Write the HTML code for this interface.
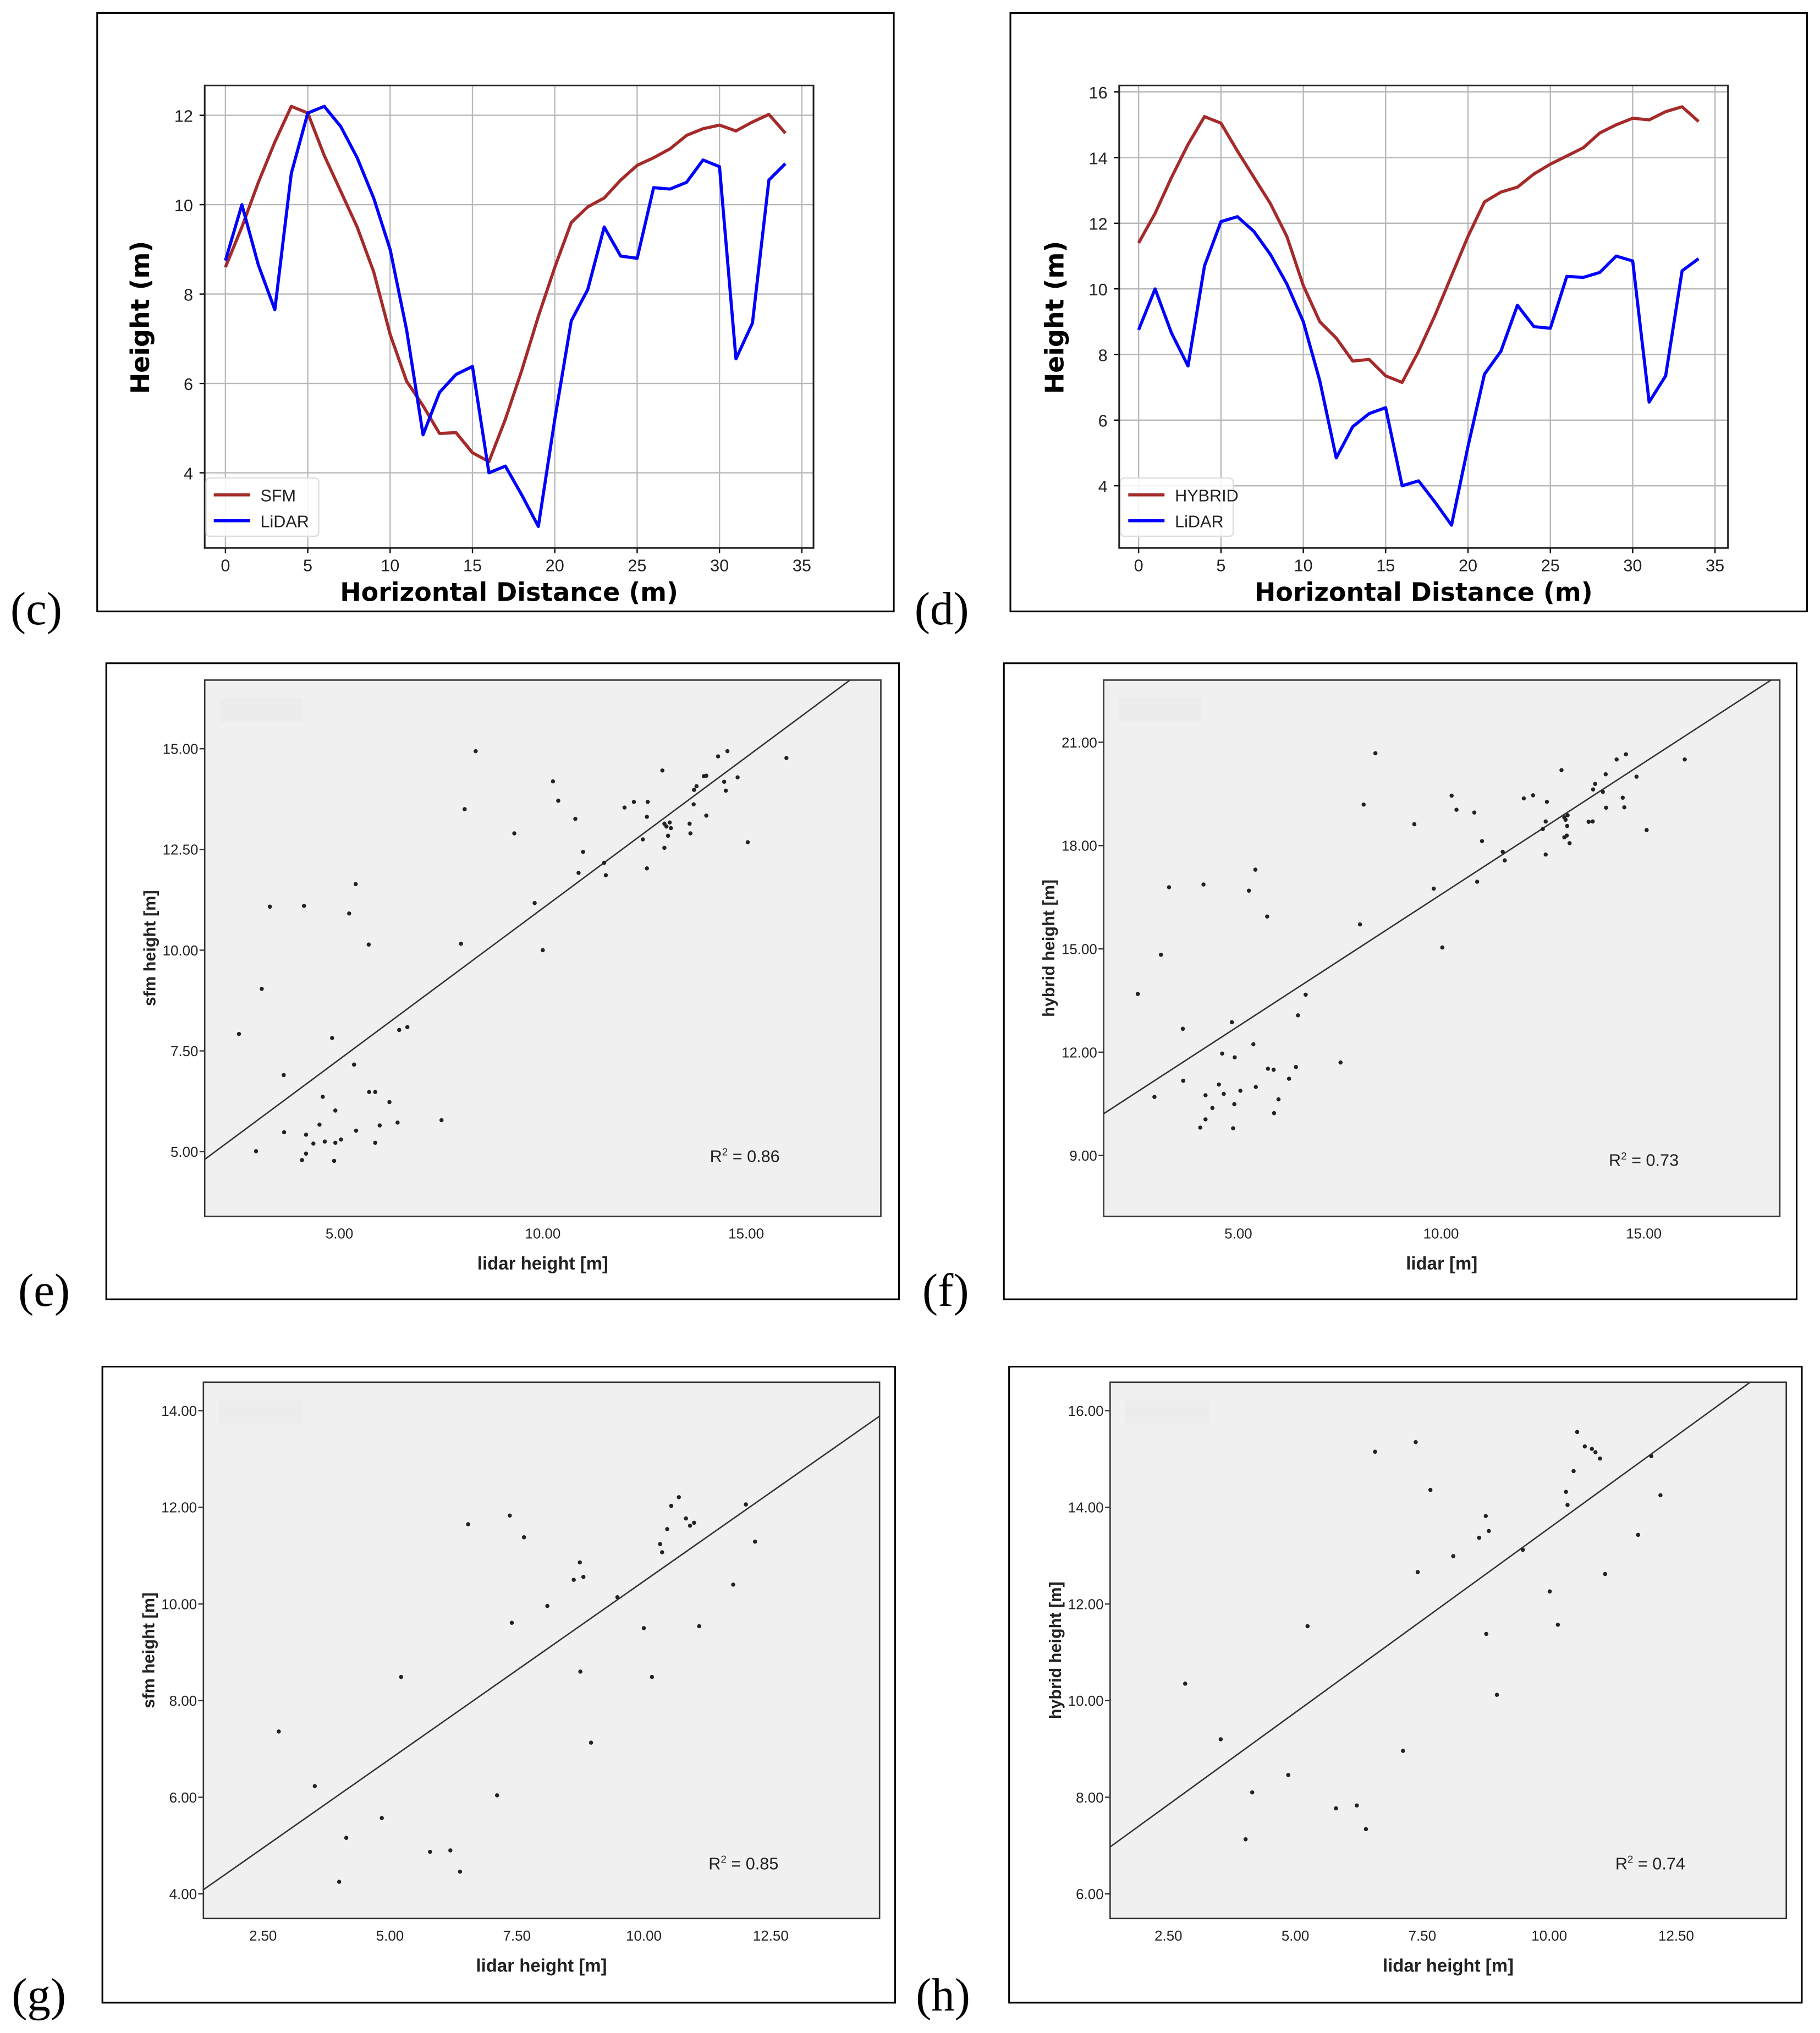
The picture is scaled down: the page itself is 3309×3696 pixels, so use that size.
<!DOCTYPE html>
<html><head><meta charset="utf-8"><style>
html,body{margin:0;padding:0;background:#fff;}
svg{display:block;}
</style></head><body>
<svg id="fig" xmlns="http://www.w3.org/2000/svg" width="3309" height="3696" viewBox="0 0 1405 1569.4">
<rect x="0" y="0" width="1405" height="1569.4" fill="#fff"/>
<g id="root"></g>
</svg>
<script>
// ---------- data: profiles ----------
const profX = [0,1,2,3,4,5,6,7,8,9,10,11,12,13,14,15,16,17,18,19,20,21,22,23,24,25,26,27,28,29,30,31,32,33,34];
const sfmProfile = [8.6,9.5,10.5,11.4,12.2,12.05,11.1,10.3,9.5,8.5,7.1,6.05,5.5,4.88,4.9,4.45,4.25,5.2,6.3,7.5,8.6,9.6,9.95,10.15,10.55,10.88,11.05,11.25,11.55,11.7,11.78,11.65,11.85,12.02,11.6];
const lidarProfile = [8.75,10.0,8.65,7.65,10.7,12.05,12.2,11.75,11.05,10.15,9.0,7.2,4.85,5.8,6.2,6.38,4.0,4.15,3.5,2.8,5.2,7.4,8.1,9.5,8.85,8.8,10.38,10.35,10.5,11.0,10.85,6.55,7.35,10.55,10.92];
const hybridProfile = [11.4,12.3,13.4,14.4,15.25,15.05,14.2,13.4,12.6,11.6,10.1,9.0,8.5,7.8,7.85,7.35,7.15,8.1,9.2,10.4,11.6,12.65,12.95,13.1,13.5,13.8,14.05,14.3,14.75,15.0,15.2,15.15,15.4,15.55,15.1];
const profXTicks = [0,5,10,15,20,25,30,35];
const cYTicks = [4,6,8,10,12];
const dYTicks = [4,6,8,10,12,14,16];

// ---------- data: scatter e / f (same lidar x) ----------
const efLidar = [8.35,10.25,10.38,8.08,9.30,10.80,10.99,10.88,11.51,11.55,9.80,10.0,7.99,12.01,12.24,12.58,12.56,12.46,12.56,12.94,12.99,13.04,13.12,13.15,13.08,12.99,13.61,13.63,13.71,13.72,13.78,13.96,14.02,14.02,14.31,14.54,14.46,14.50,14.79,15.04,15.99,2.53,3.09,3.29,4.13,5.24,5.40,5.72,3.63,3.64,2.95,4.18,4.51,4.59,4.82,4.90,4.36,4.64,4.90,5.04,4.18,4.08,4.87,5.36,5.41,5.73,5.88,5.99,5.88,6.23,6.43,6.47,6.67,7.51];
const eSfm = [14.94,14.19,13.71,13.50,12.90,13.26,12.44,11.92,12.17,11.86,11.17,10.0,10.16,13.54,13.68,13.68,13.31,12.75,12.03,14.46,13.14,13.07,13.17,13.03,12.84,12.54,13.14,12.90,13.62,13.98,14.07,14.32,14.33,13.34,14.81,14.94,14.18,13.96,14.29,12.68,14.77,7.92,9.04,11.08,11.10,10.91,11.64,10.14,6.90,5.48,5.01,5.42,5.67,6.36,7.82,6.02,5.20,5.25,5.22,5.30,4.95,4.79,4.77,7.16,5.52,6.48,6.48,5.65,5.22,6.23,5.72,8.02,8.09,5.78];
const fLidar = [8.38,8.09,10.26,10.38,10.82,9.34,11.01,9.82,10.89,11.52,11.57,10.03,8.0,12.04,12.27,12.61,12.58,12.51,12.58,12.97,13.04,13.07,13.12,13.11,13.10,13.04,13.17,13.64,13.74,13.75,13.80,13.99,14.06,14.07,14.33,14.56,14.48,14.52,14.82,15.07,16.01,2.52,3.09,3.29,4.14,5.26,5.42,5.71,3.63,3.64,2.93,4.19,4.52,4.60,4.84,4.91,4.36,4.64,4.90,5.05,4.19,4.06,4.87,5.37,5.43,5.73,5.87,5.99,5.88,6.25,6.42,6.47,6.66,7.52];
const fHybrid = [20.68,19.19,19.45,19.04,18.96,18.62,18.13,16.75,16.95,17.82,17.57,15.04,15.71,19.37,19.46,19.27,18.70,18.48,17.74,20.19,18.82,18.75,18.88,18.57,18.29,18.24,18.07,18.69,18.70,19.63,19.79,19.56,20.07,19.10,20.50,20.65,19.39,19.11,20.0,18.45,20.50,13.69,14.83,16.79,16.87,16.69,17.30,15.94,12.68,11.17,10.70,10.75,11.06,11.96,12.87,11.85,10.38,10.79,10.49,10.88,10.05,9.81,9.79,12.23,10.99,11.52,11.49,10.63,10.23,11.23,11.57,13.07,13.67,11.70];

// ---------- data: scatter g / h ----------
const gLidar = [2.81,3.52,4.14,4.00,4.84,5.22,5.79,6.19,6.38,6.54,7.11,7.36,7.40,7.64,8.10,8.62,8.74,8.81,8.75,8.96,9.48,10.0,10.16,10.32,10.36,10.46,10.54,10.69,10.83,10.91,10.99,11.09,11.76,12.01,12.19];
const gSfm = [7.36,6.23,5.16,4.25,5.57,8.49,4.87,4.90,4.46,11.65,6.04,11.83,9.61,11.38,9.96,10.50,10.86,10.56,8.60,7.13,10.14,9.50,8.49,11.24,11.07,11.55,12.03,12.21,11.77,11.62,11.68,9.54,10.40,12.06,11.29];
const hLidar = [2.83,3.53,4.15,4.02,4.86,5.24,5.80,6.21,6.39,6.57,7.12,7.37,7.41,7.66,8.11,8.62,8.75,8.81,8.76,8.97,9.48,10.01,10.17,10.33,10.36,10.48,10.55,10.70,10.84,10.91,11.0,11.10,11.75,12.01,12.19];
const hHybrid = [10.35,9.20,8.10,7.13,8.46,11.54,7.77,7.83,7.34,15.15,8.96,15.35,12.66,14.36,12.99,13.37,13.82,13.51,11.38,10.12,13.12,12.26,11.57,14.32,14.05,14.75,15.56,15.26,15.21,15.14,15.01,12.62,13.43,15.06,14.25];

// fits [intercept, slope]
const eFit = [3.54, 0.75];
const fFit = [8.93, 0.765];
const gFit = [3.11, 0.736];
const hFit = [5.94, 0.763];
const efXTicks = [5,10,15];
const eYTicks = [5,7.5,10,12.5,15];
const fYTicks = [9,12,15,18,21];
const ghXTicks = [2.5,5,7.5,10,12.5];
const gYTicks = [4,6,8,10,12,14];
const hYTicks = [6,8,10,12,14,16];

const NS = "http://www.w3.org/2000/svg";
const root = document.getElementById('root');
function mk(tag, attrs, parent, txt){
  const el = document.createElementNS(NS, tag);
  for (const k in attrs) el.setAttribute(k, attrs[k]);
  if (txt !== undefined) el.textContent = txt;
  (parent || root).appendChild(el);
  return el;
}
function lin(d0,d1,r0,r1){ return v => r0 + (v-d0)*(r1-r0)/(d1-d0); }

function panelLabel(txt, x, y){
  const t = mk('text', {x:x, y:y, 'font-family':'Liberation Serif, serif', 'font-size':36, fill:'#000'}, root, txt);
  
  
}

// ---------- profile chart ----------
function profileChart(o){
  const g = mk('g', {});
  
  
  const box = mk('rect', {x:o.bx, y:10, width:615, height:462, fill:'#fff', stroke:'#000', 'stroke-width':1.3}, g);
  
  
  const X = lin(0,35,o.x0,o.x0+445);
  const Y = lin(o.yA,o.yB,o.yAp,o.yBp);
  const pl = o.px, pr = o.px+470, pt = 66, pb = 423;
  // grid
  const grid = mk('g', {stroke:'#b8b8b8', 'stroke-width':1}, g);
  
  
  profXTicks.forEach(t => { mk('line', {x1:X(t), x2:X(t), y1:pt, y2:pb}, grid); });
  o.yTicks.forEach(t => { mk('line', {x1:pl, x2:pr, y1:Y(t), y2:Y(t)}, grid); });
  // ticks & labels
  profXTicks.forEach(t => {
    mk('line', {x1:X(t), x2:X(t), y1:pb, y2:pb+4, stroke:'#000'}, g);
    const tl = mk('text', {x:X(t), y:pb+18, 'text-anchor':'middle', 'font-family':'Liberation Sans, sans-serif', 'font-size':13, fill:'#222'}, g, String(t));
    
    
  });
  o.yTicks.forEach(t => {
    mk('line', {x1:pl-4, x2:pl, y1:Y(t), y2:Y(t), stroke:'#000'}, g);
    const tl = mk('text', {x:pl-9, y:Y(t)+5, 'text-anchor':'end', 'font-family':'Liberation Sans, sans-serif', 'font-size':13, fill:'#222'}, g, String(t));
    
    
  });
  // series
  o.series.forEach(s => {
    const d = profX.map((x,i) => (i?'L':'M') + X(x).toFixed(2) + ',' + Y(s.vals[i]).toFixed(2)).join('');
    const p = mk('path', {d:d, fill:'none', stroke:s.color, 'stroke-width':2.4, 'stroke-linejoin':'round'}, g);
    
    
  });
  mk('rect', {x:pl, y:pt, width:470, height:pb-pt, fill:'none', stroke:'#222', 'stroke-width':1.3}, g);
  // legend
  const lg = mk('g', {}, g);
  
  
  mk('rect', {x:pl+1, y:369, width:87, height:45, rx:3, fill:'#fff', 'fill-opacity':0.85, stroke:'#ddd'}, lg);
  o.series.forEach((s,i) => {
    const yy = 382 + i*20;
    mk('line', {x1:pl+7, x2:pl+35, y1:yy, y2:yy, stroke:s.color, 'stroke-width':2.4}, lg);
    const lt = mk('text', {x:pl+43, y:yy+5, 'font-family':'Liberation Sans, sans-serif', 'font-size':13, fill:'#222'}, lg, s.label);
    
    
  });
  const xl = mk('text', {x:(pl+pr)/2, y:464, 'text-anchor':'middle', 'font-family':'DejaVu Sans, sans-serif', 'font-weight':'bold', 'font-size':19.5, fill:'#000'}, g, 'Horizontal Distance (m)');
  
  
  const yl = mk('text', {x:0, y:0, transform:'translate('+(o.px-43)+',245) rotate(-90)', 'text-anchor':'middle', 'font-family':'DejaVu Sans, sans-serif', 'font-weight':'bold', 'font-size':19.5, fill:'#000'}, g, 'Height (m)');
  
  
}

// ---------- scatter chart ----------
function scatterChart(o){
  const g = mk('g', {});
  
  
  const box = mk('rect', {x:o.bx, y:o.by, width:612, height:491, fill:'#fff', stroke:'#000', 'stroke-width':1.3}, g);
  
  
  const pl=o.pl, pr=o.pl+522, pt=o.pt, pb=o.pt+414;
  const X = lin(o.xA,o.xB,o.xAp,o.xBp);
  const Y = lin(o.yA,o.yB,o.yAp,o.yBp);
  const bg = mk('rect', {x:pl, y:pt, width:pr-pl, height:pb-pt, fill:'#f0f0f0'}, g);
  
  
  mk('rect', {x:pl+12, y:pt+14, width:64, height:18, fill:'#ececec'}, g);
  // fit line, clipped
  const cid = 'clip-' + o.name;
  const cp = mk('clipPath', {id:cid}, g);
  mk('rect', {x:pl, y:pt, width:pr-pl, height:pb-pt}, cp);
  const xs0 = o.xA + (pl-o.xAp)*(o.xB-o.xA)/(o.xBp-o.xAp);
  const xs1 = o.xA + (pr-o.xAp)*(o.xB-o.xA)/(o.xBp-o.xAp);
  const fl = mk('line', {x1:X(xs0), y1:Y(o.fit[0]+o.fit[1]*xs0), x2:X(xs1), y2:Y(o.fit[0]+o.fit[1]*xs1), stroke:'#333', 'stroke-width':1.1, 'clip-path':'url(#'+cid+')'}, g);
  
  
  const pts = mk('g', {fill:'#222'}, g);
  
  
  o.xs.forEach((xv,i) => {
    const c = mk('circle', {cx:X(xv), cy:Y(o.ys[i]), r:1.6}, pts);
    
    
  });
  mk('rect', {x:pl, y:pt, width:pr-pl, height:pb-pt, fill:'none', stroke:'#333', 'stroke-width':1.1}, g);
  o.xTicks.forEach(t => {
    const tl = mk('text', {x:X(t), y:pb+17, 'text-anchor':'middle', 'font-family':'Liberation Sans, sans-serif', 'font-size':11, fill:'#222'}, g, t.toFixed(2));
    
    
  });
  o.yTicks.forEach(t => {
    mk('line', {x1:pl-4, x2:pl, y1:Y(t), y2:Y(t), stroke:'#333'}, g);
    const tl = mk('text', {x:pl-5, y:Y(t)+4, 'text-anchor':'end', 'font-family':'Liberation Sans, sans-serif', 'font-size':11, fill:'#222'}, g, t.toFixed(2));
    
    
  });
  const r2 = mk('text', {x:pl+390, y:o.r2y, 'font-family':'Liberation Sans, sans-serif', 'font-size':13, fill:'#222'}, g);
  
  
  mk('tspan', {}, r2, 'R');
  mk('tspan', {'font-size':8, dy:-5}, r2, '2');
  mk('tspan', {dy:5}, r2, ' = ' + o.r2);
  const xl = mk('text', {x:(pl+pr)/2, y:pb+41, 'text-anchor':'middle', 'font-family':'Liberation Sans, sans-serif', 'font-weight':'bold', 'font-size':14, fill:'#222'}, g, o.xlabel);
  
  
  const yl = mk('text', {x:0, y:0, transform:'translate('+(pl-38)+','+(pt+207)+') rotate(-90)', 'text-anchor':'middle', 'font-family':'Liberation Sans, sans-serif', 'font-weight':'bold', 'font-size':13, fill:'#222'}, g, o.ylabel);
  
  
}

profileChart({name:'chart-c-sfm-lidar-profile', bx:75, px:158, x0:174, yA:4, yB:12, yAp:365, yBp:89, yTicks:cYTicks,
  series:[{key:'sfm', label:'SFM', color:'#a52a2a', vals:sfmProfile},{key:'lidar', label:'LiDAR', color:'#0000ff', vals:lidarProfile}]});
profileChart({name:'chart-d-hybrid-lidar-profile', bx:780, px:864, x0:879, yA:4, yB:16, yAp:375, yBp:71, yTicks:dYTicks,
  series:[{key:'hybrid', label:'HYBRID', color:'#a52a2a', vals:hybridProfile},{key:'lidar', label:'LiDAR', color:'#0000ff', vals:lidarProfile}]});

scatterChart({name:'chart-e-sfm-vs-lidar', bx:82, by:512, pl:158, pt:525, xA:5, xB:15, xAp:262, xBp:576, yA:5, yB:15, yAp:889, yBp:578,
  xs:efLidar, ys:eSfm, fit:eFit, xTicks:efXTicks, yTicks:eYTicks, r2:'0.86', r2y:897, xlabel:'lidar height [m]', ylabel:'sfm height [m]'});
scatterChart({name:'chart-f-hybrid-vs-lidar', bx:775, by:512, pl:852, pt:525, xA:5, xB:15, xAp:956, xBp:1269, yA:9, yB:21, yAp:892, yBp:573,
  xs:fLidar, ys:fHybrid, fit:fFit, xTicks:efXTicks, yTicks:fYTicks, r2:'0.73', r2y:900, xlabel:'lidar [m]', ylabel:'hybrid height [m]'});
scatterChart({name:'chart-g-sfm-vs-lidar', bx:79, by:1055, pl:157, pt:1067, xA:2.5, xB:12.5, xAp:203, xBp:595, yA:4, yB:14, yAp:1462, yBp:1089,
  xs:gLidar, ys:gSfm, fit:gFit, xTicks:ghXTicks, yTicks:gYTicks, r2:'0.85', r2y:1443, xlabel:'lidar height [m]', ylabel:'sfm height [m]'});
scatterChart({name:'chart-h-hybrid-vs-lidar', bx:779, by:1055, pl:857, pt:1067, xA:2.5, xB:12.5, xAp:902, xBp:1294, yA:6, yB:16, yAp:1462, yBp:1089,
  xs:hLidar, ys:hHybrid, fit:hFit, xTicks:ghXTicks, yTicks:hYTicks, r2:'0.74', r2y:1443, xlabel:'lidar height [m]', ylabel:'hybrid height [m]'});

panelLabel('(c)', 8, 482);
panelLabel('(d)', 706, 482);
panelLabel('(e)', 14, 1008);
panelLabel('(f)', 712, 1008);
panelLabel('(g)', 9, 1552);
panelLabel('(h)', 707, 1552);
</script>
</body></html>
